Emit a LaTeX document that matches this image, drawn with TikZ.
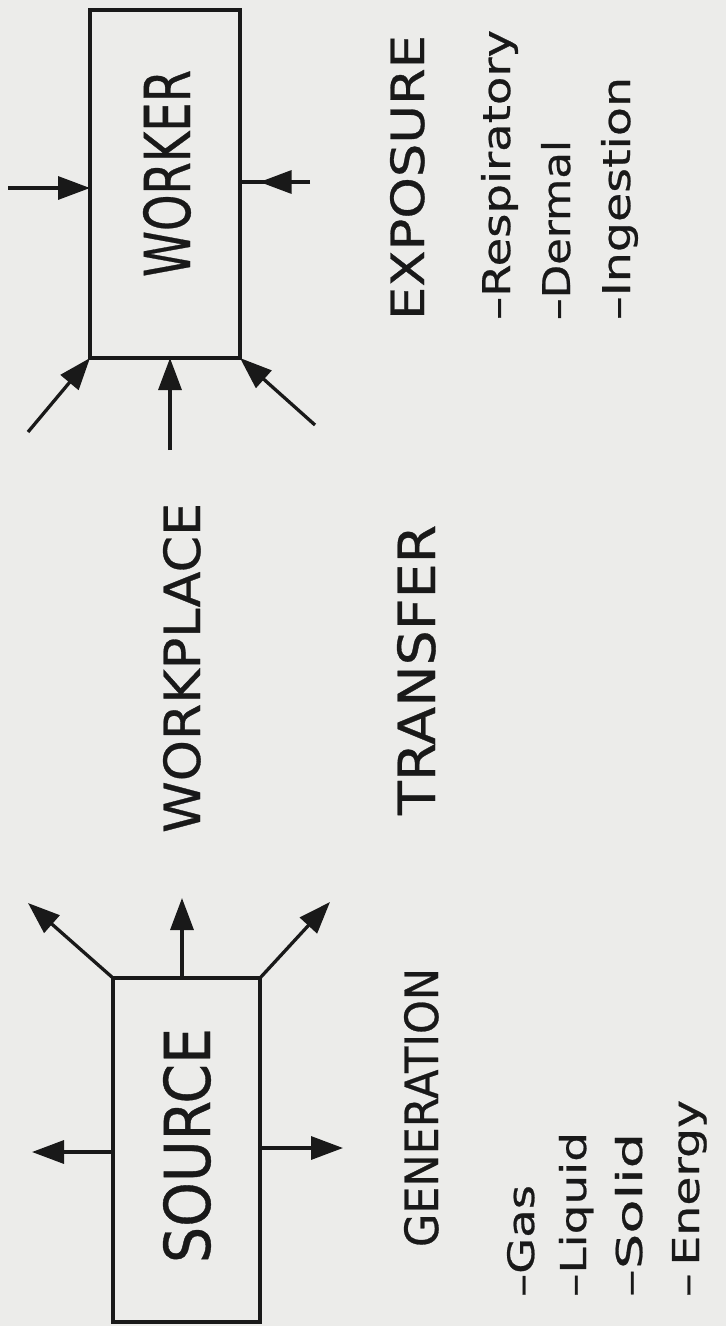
\documentclass[tikz,border=0pt]{standalone}
\usepackage{graphicx}
\usepackage{fontspec}
\setmainfont{DejaVu Sans}[FakeBold=0.6, AutoFakeBold=0.6]
\usetikzlibrary{arrows.meta,decorations.markings}
\newcommand{\fitlbl}[3]{\resizebox{#1pt}{#2pt}{\bfseries #3}}
\definecolor{paper}{RGB}{236,236,234}
\definecolor{ink}{RGB}{25,25,25}
\begin{document}
\begin{tikzpicture}[x=1pt,y=-1pt,
  boxnode/.style={draw=ink, line width=3.5pt, inner sep=0pt, outer sep=0pt},
  arr/.style={line width=3.3pt, draw=ink, -{Triangle[length=32pt,width=23pt]}},
  plainline/.style={line width=3.3pt, draw=ink},
  lbl/.style={rotate=90, anchor=base west, inner sep=0pt, outer sep=0pt, text=ink},
]
\fill[paper] (0,0) rectangle (726,1326);
\useasboundingbox (0,0) rectangle (726,1326);

% boxes
\node[boxnode, minimum width=150pt, minimum height=348pt] (worker) at (165,184) {};
\node[boxnode, minimum width=147pt, minimum height=344pt] (source) at (186.5,1150) {};

% box labels
\node[lbl] (tworker) at (190,277) {\fitlbl{207}{47}{WORKER}};
\node[lbl] (tsource) at (210,1263) {\fitlbl{235}{47}{SOURCE}};

% headings
\node[lbl] (tworkplace) at (200,833) {\fitlbl{330}{37}{WORKPLACE}};
\node[lbl] (ttransfer) at (435,815) {\fitlbl{290}{38}{TRANSFER}};
\node[lbl] (texposure) at (424,320) {\fitlbl{285}{34}{EXPOSURE}};
\node[lbl] (tgeneration) at (438,1247) {\fitlbl{279}{34}{GENERATION}};

% exposure list
\node[lbl] (lresp) at (510,320) {\fitlbl{290}{29}{–Respiratory}};
\node[lbl] (lderm) at (570,320) {\fitlbl{180}{29}{–Dermal}};
\node[lbl] (linge) at (630,320) {\fitlbl{243}{29}{–Ingestion}};

% generation list
\node[lbl] (lgas) at (534,1297) {\fitlbl{112}{27}{–Gas}};
\node[lbl] (lliq) at (586,1297) {\fitlbl{165}{27}{–Liquid}};
\node[lbl] (lsol) at (642,1297) {\fitlbl{164}{27}{–Solid}};
\node[lbl] (lene) at (699,1297) {\fitlbl{197}{27}{–\,Energy}};

% arrows into the worker
\coordinate (wl) at (8,188);
\coordinate (wr) at (310,182);
\coordinate (wbl) at (28,432);
\coordinate (wbm) at (170,450);
\coordinate (wbr) at (315,425);
\draw[arr] (wl) -- (wl -| worker.west);
\draw[plainline, postaction={decorate}, decoration={markings, mark=at position 0.72 with {\arrow{Triangle[length=32pt,width=23pt]}}}] (wr) -- (wr -| worker.east);
\draw[arr] (wbl) -- (worker.south west);
\draw[arr] (wbm) -- (wbm |- worker.south);
\draw[arr] (wbr) -- (worker.south east);

% arrows out of the source
\coordinate (stl) at (28,903);
\coordinate (stm) at (182,898);
\coordinate (str) at (330,902);
\coordinate (sl) at (32,1152);
\coordinate (sr) at (343,1148);
\draw[arr] (source.north west) -- (stl);
\draw[arr] (stm |- source.north) -- (stm);
\draw[arr] (source.north east) -- (str);
\draw[arr] (sl -| source.west) -- (sl);
\draw[arr] (sr -| source.east) -- (sr);
\end{tikzpicture}
\end{document}
